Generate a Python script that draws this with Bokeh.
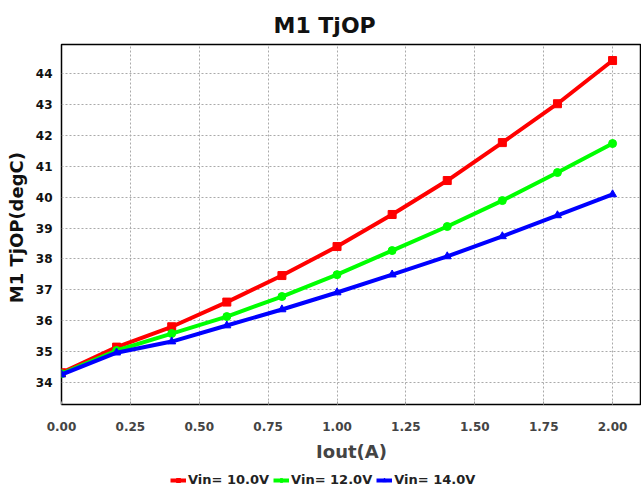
from bokeh.plotting import figure
from bokeh.layouts import column
from bokeh.models import FixedTicker, Legend, LegendItem, Range1d, NumeralTickFormatter
from bokeh.embed import file_html
from bokeh.resources import INLINE

iout = [0.0, 0.2, 0.4, 0.6, 0.8, 1.0, 1.2, 1.4, 1.6, 1.8, 2.0]
vin10 = [34.31, 35.14, 35.80, 36.60, 37.46, 38.40, 39.44, 40.54, 41.77, 43.03, 44.43]
vin12 = [34.28, 35.03, 35.58, 36.13, 36.78, 37.49, 38.27, 39.05, 39.89, 40.80, 41.74]
vin14 = [34.25, 34.96, 35.32, 35.84, 36.36, 36.91, 37.49, 38.08, 38.73, 39.41, 40.09]
x_ticks = [0.0, 0.25, 0.5, 0.75, 1.0, 1.25, 1.5, 1.75, 2.0]
y_ticks = [34, 35, 36, 37, 38, 39, 40, 41, 42, 43, 44]
series_names = ["Vin= 10.0V", "Vin= 12.0V", "Vin= 14.0V"]

FONT = "DejaVu Sans"

p = figure(width=641, height=468, output_backend="svg", toolbar_location=None,
           x_range=Range1d(0.0, 2.105), y_range=Range1d(33.28, 44.95),
           min_border_left=61, min_border_right=0, min_border_top=44, min_border_bottom=64,
           title="M1  TjOP")
p.title.text_font = FONT
p.title.text_font_size = "22px"
p.title.text_font_style = "bold"
p.title.align = "left"
p.title.offset = 212
p.title.standoff = 14
p.title.text_color = "#111111"

p.outline_line_color = "black"
p.outline_line_width = 1.5
p.background_fill_color = "white"
p.border_fill_color = "white"

p.xaxis.ticker = FixedTicker(ticks=x_ticks)
p.yaxis.ticker = FixedTicker(ticks=y_ticks)
p.xaxis.formatter = NumeralTickFormatter(format="0.00")

for ax in (p.xaxis[0], p.yaxis[0]):
    ax.axis_line_color = None
    ax.major_label_text_font = FONT
    ax.major_label_text_font_style = "bold"
    ax.major_label_text_font_size = "12px"
    ax.axis_label_text_font = FONT
    ax.axis_label_text_font_style = "bold"
    ax.axis_label_text_font_size = "18px"
    ax.minor_tick_line_color = None

p.xaxis.major_label_text_color = "#444444"
p.yaxis.major_label_text_color = "#111111"
p.xaxis.axis_label = "Iout(A)"
p.yaxis.axis_label = "M1  TjOP(degC)"
p.xaxis.axis_label_text_color = "#444444"
p.yaxis.axis_label_text_color = "#111111"
p.xaxis.major_tick_in = 3
p.xaxis.major_tick_out = 0
p.xaxis.major_tick_line_color = "#999999"
p.yaxis.major_tick_in = 0
p.yaxis.major_tick_out = 0
p.xaxis.major_label_standoff = 17
p.yaxis.major_label_standoff = 9
p.xaxis.axis_label_standoff = 7
p.yaxis.axis_label_standoff = 6

for g in (p.xgrid[0], p.ygrid[0]):
    g.grid_line_color = "#aaaaaa"
    g.grid_line_dash = "2 2"
    g.grid_line_width = 1

colors = ["#ff0000", "#00ff00", "#0000ff"]
markers = ["square", "circle", "triangle"]
data = [vin10, vin12, vin14]
for vals, c, m in zip(data, colors, markers):
    p.line(iout, vals, line_color=c, line_width=4)
    p.scatter(iout, vals, marker=m, size=8, fill_color=c, line_color=c)

# legend strip below the chart
leg = figure(width=641, height=20, output_backend="svg", toolbar_location=None,
             x_range=Range1d(0, 1), y_range=Range1d(0, 1),
             min_border_left=0, min_border_right=0, min_border_top=0, min_border_bottom=0)
leg.axis.visible = False
leg.grid.visible = False
leg.outline_line_color = None
items = []
for vals, c, m, name in zip(data, colors, markers, series_names):
    ln = leg.line(iout, vals, line_color=c, line_width=4)
    mk = leg.scatter(iout, vals, marker=m, size=7, fill_color=c, line_color=c)
    items.append(LegendItem(label=name, renderers=[ln, mk]))
legend = Legend(items=items, orientation="horizontal", location=(109, 1),
                label_text_font=FONT, label_text_font_style="bold",
                label_text_font_size="13px", label_text_color="#222222",
                glyph_width=16, glyph_height=10, spacing=4, label_standoff=2,
                padding=0, margin=0, border_line_color=None,
                background_fill_alpha=0)
leg.add_layout(legend, "center")

open("out.html", "w").write(file_html(column(p, leg, spacing=0), INLINE))
